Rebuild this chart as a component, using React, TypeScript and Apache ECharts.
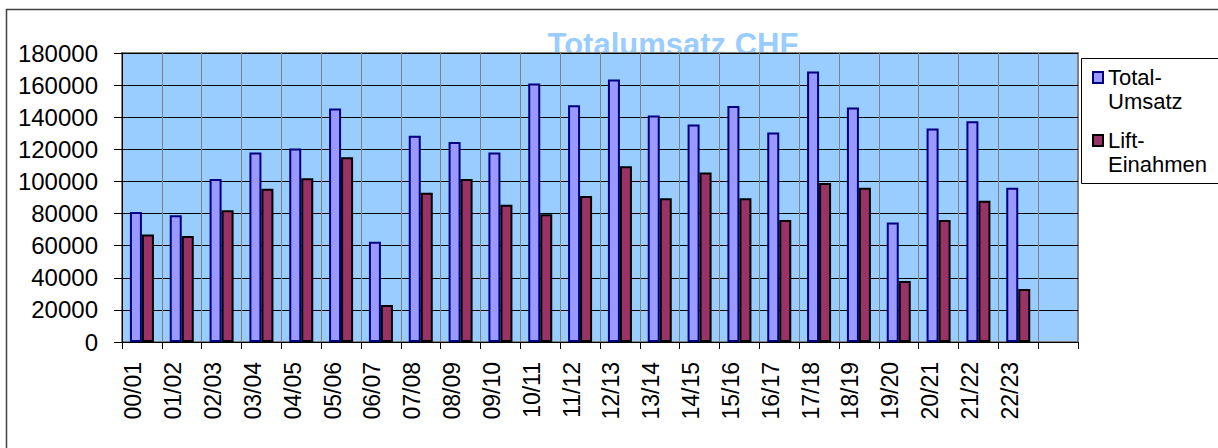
import React, { useEffect, useRef } from "react";
import * as echarts from "echarts";

const seasons = [
  "00/01", "01/02", "02/03", "03/04", "04/05", "05/06", "06/07", "07/08",
  "08/09", "09/10", "10/11", "11/12", "12/13", "13/14", "14/15", "15/16",
  "16/17", "17/18", "18/19", "19/20", "20/21", "21/22", "22/23",
];
// one empty slot follows the last season on the axis
const axisCategories = [...seasons, ""];

const totalUmsatz = [
  81000, 79000, 101500, 118000, 120500, 145500, 62500, 128500, 124500, 118000,
  161000, 147500, 163500, 141000, 135500, 147000, 130500, 168500, 146000,
  74500, 133000, 137500, 96000,
];
const liftEinnahmen = [
  67000, 66000, 82000, 95500, 102000, 115000, 23000, 93000, 101500, 85500,
  79500, 91000, 109500, 89500, 105500, 89500, 76000, 99000, 96000, 38000,
  76000, 88000, 33000,
];

const seriesNames = ["Total-\nUmsatz", "Lift-\nEinahmen"];
const titleText = "Totalumsatz CHF";

const FONT = "'Liberation Sans', Arial, Helvetica, sans-serif";

export default function App() {
  const ref = useRef<HTMLDivElement>(null);
  useEffect(() => {
    document.body.style.margin = "0";
    const chart = echarts.init(ref.current as HTMLDivElement, null, { renderer: "svg" });
    const option: any = {
      animation: false,
      backgroundColor: "#ffffff",
      textStyle: { fontFamily: FONT },
      grid: {
        left: 122,
        top: 53,
        right: 140,
        bottom: 106,
        show: true,
        backgroundColor: "#99CCFF",
        borderColor: "#808080",
        borderWidth: 2,
        z: 0,
      },
      xAxis: {
        type: "category",
        data: axisCategories,
        boundaryGap: true,
        axisLine: { show: true, lineStyle: { color: "#000", width: 1 } },
        axisTick: { show: true, interval: 0, length: 7, lineStyle: { color: "#000" } },
        splitLine: { show: true, interval: 0, lineStyle: { color: "#808080", width: 1 } },
        axisLabel: {
          interval: 0,
          rotate: 90,
          margin: 20,
          fontSize: 23,
          color: "#000",
          fontFamily: FONT,
          verticalAlign: "bottom",
          lineHeight: 17,
        },
      },
      yAxis: {
        type: "value",
        min: 0,
        max: 180000,
        interval: 20000,
        axisLine: { show: true, lineStyle: { color: "#000", width: 1 } },
        axisTick: { show: true, length: 8, lineStyle: { color: "#000" } },
        splitLine: { show: true, lineStyle: { color: "#000", width: 1 } },
        axisLabel: {
          fontSize: 24,
          color: "#000",
          margin: 24,
          fontFamily: FONT,
          formatter: (v: number) => String(v),
        },
      },
      series: [
        {
          name: seriesNames[0],
          type: "bar",
          data: totalUmsatz,
          barWidth: 12,
          barGap: "0%",
          itemStyle: { color: "#9999FF", borderColor: "#000080", borderWidth: 2 },
        },
        {
          name: seriesNames[1],
          type: "bar",
          data: liftEinnahmen,
          barWidth: 12,
          barGap: "0%",
          itemStyle: { color: "#993366", borderColor: "#000000", borderWidth: 2 },
        },
      ],
      graphic: [
        {
          type: "rect",
          z: -100,
          silent: true,
          shape: { x: 6.5, y: 9.5, width: 1230, height: 460 },
          style: { fill: "none", stroke: "#404040", lineWidth: 1.5 },
        },
        {
          type: "text",
          z: -50,
          silent: true,
          style: {
            x: 673,
            y: 44,
            text: titleText,
            fill: "#99CCFF",
            font: `bold 31px ${FONT}`,
            textAlign: "center",
            verticalAlign: "middle",
          },
        },
        {
          type: "rect",
          z: 10,
          silent: true,
          shape: { x: 1081.5, y: 58.5, width: 150, height: 125 },
          style: { fill: "#ffffff", stroke: "#000", lineWidth: 1 },
        },
        {
          type: "rect",
          z: 11,
          silent: true,
          shape: { x: 1093, y: 72, width: 10, height: 11 },
          style: { fill: "#9999FF", stroke: "#000080", lineWidth: 2 },
        },
        {
          type: "text",
          z: 11,
          silent: true,
          style: {
            x: 1108,
            y: 65,
            text: seriesNames[0],
            fill: "#000",
            font: `22px ${FONT}`,
            lineHeight: 24,
            verticalAlign: "top",
          },
        },
        {
          type: "rect",
          z: 11,
          silent: true,
          shape: { x: 1093, y: 135, width: 10, height: 11 },
          style: { fill: "#993366", stroke: "#000", lineWidth: 2 },
        },
        {
          type: "text",
          z: 11,
          silent: true,
          style: {
            x: 1108,
            y: 128,
            text: seriesNames[1],
            fill: "#000",
            font: `22px ${FONT}`,
            lineHeight: 24,
            verticalAlign: "top",
          },
        },
      ],
    };
    chart.setOption(option);
    return () => chart.dispose();
  }, []);
  return <div ref={ref} style={{ width: 1218, height: 448 }} />;
}
